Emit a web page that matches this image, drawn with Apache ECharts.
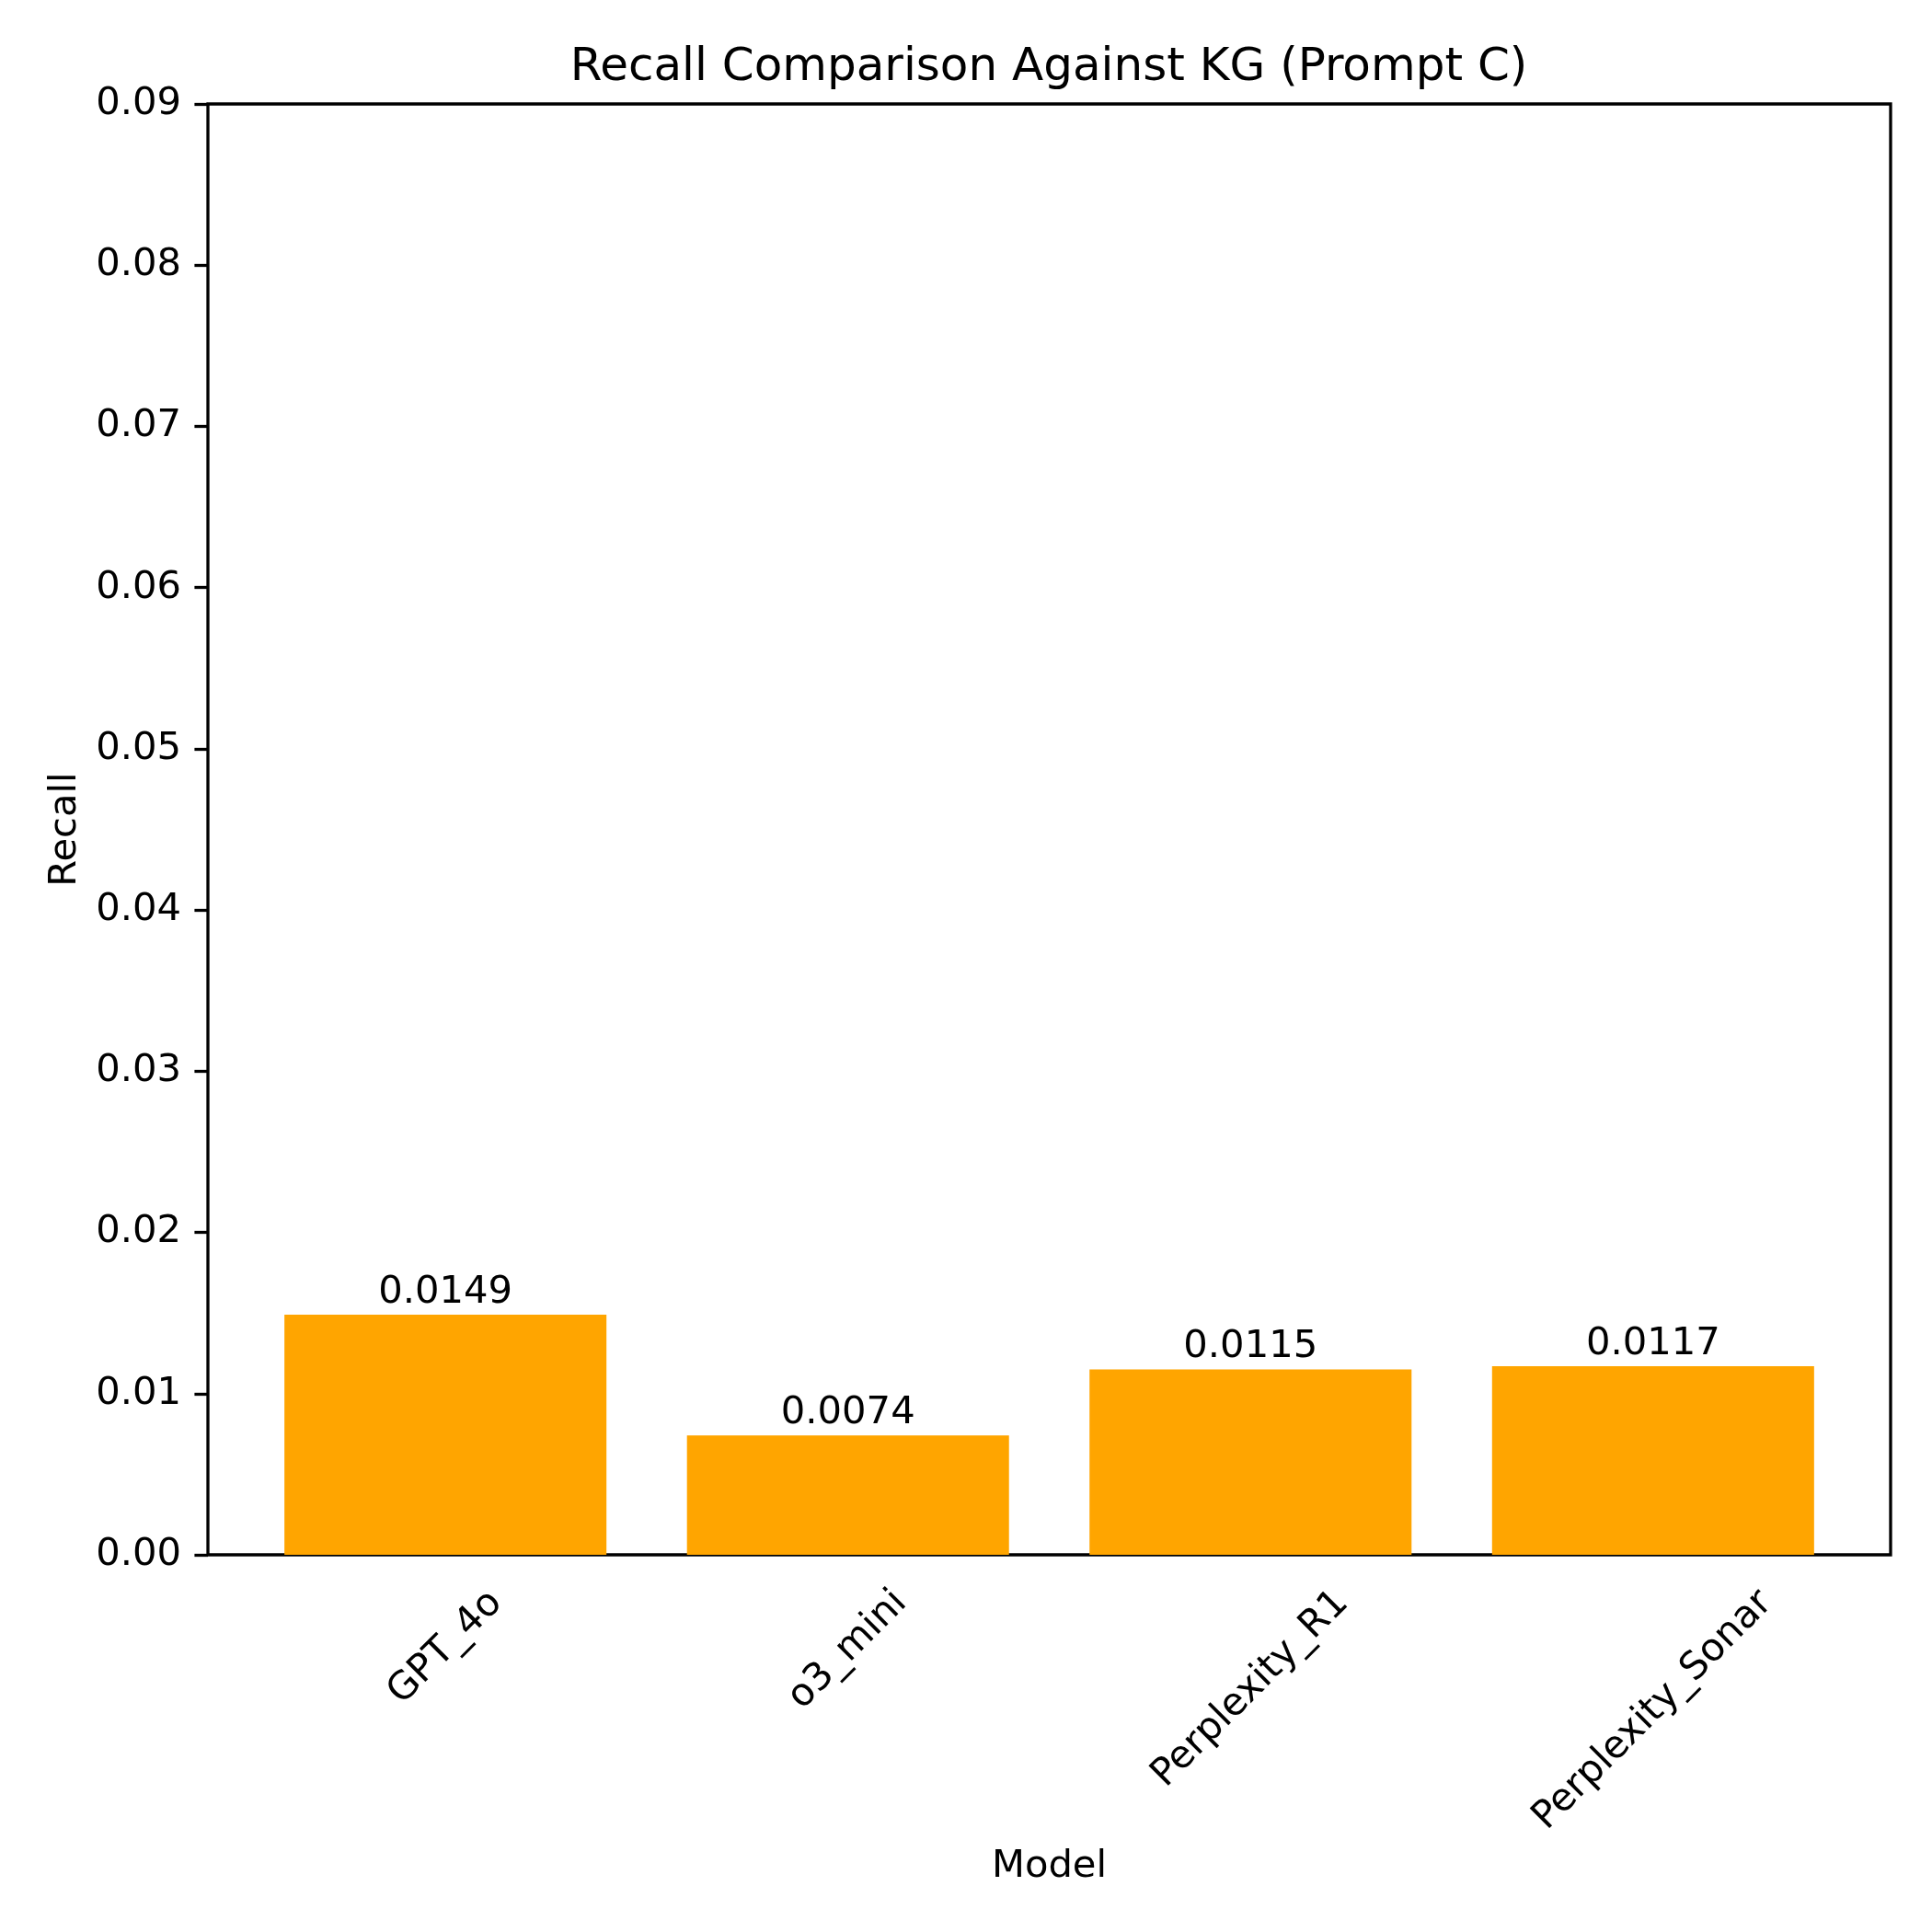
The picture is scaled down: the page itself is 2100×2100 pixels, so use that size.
<!DOCTYPE html>
<html lang="en">
<head>
	<meta charset="UTF-8">
	<title>Recall Comparison Against KG (Prompt C)</title>
	<script src="https://cdn.jsdelivr.net/npm/echarts@6/dist/echarts.min.js"></script>
</head>
<body style="margin:0;background:#fff;">
	<div id="main" style="width:2100px;height:2100px;"></div>
	<script type="text/javascript">
        // data
        var models = ['GPT_4o', 'o3_mini', 'Perplexity_R1', 'Perplexity_Sonar'];
        var recall = [0.0149, 0.0074, 0.0115, 0.0117];
        var yTicks = [0, 0.01, 0.02, 0.03, 0.04, 0.05, 0.06, 0.07, 0.08, 0.09];

        var font = 'DejaVu Sans';
        var fs = 41.7;

        // matplotlib centres rotated tick labels under the tick, so push each
        // label down according to its width (padding on the rotated text box)
        var ctx = document.createElement('canvas').getContext('2d');
        ctx.font = fs + 'px "' + font + '"';
        var rich = {};
        models.forEach(function (m, i) {
            var w = ctx.measureText(m).width;
            var d = 29 + (w + 48) / (2 * Math.SQRT2);
            var p = d * Math.SQRT2;
            rich['l' + i] = {
                fontFamily: font, fontSize: fs, color: '#000',
                padding: [p, p, 0, 0]
            };
        });

        var myChart = echarts.init(document.getElementById('main'));
        myChart.setOption({
            backgroundColor: '#fff',
            animation: false,
            textStyle: { fontFamily: font },
            title: {
                text: 'Recall Comparison Against KG (Prompt C)',
                left: 1135,
                textAlign: 'center',
                top: 44,
                textStyle: { fontFamily: font, fontSize: 50, fontWeight: 'normal', color: '#000' }
            },
            grid: [
                // outer frame (axes box)
                { left: 226, right: 45, top: 113, bottom: 410, show: true,
                  borderColor: '#000', borderWidth: 3.3, backgroundColor: 'transparent' },
                // bars live here, inset by matplotlib's x margins
                { left: 265.4, right: 84.4, top: 113, bottom: 410 }
            ],
            xAxis: [
                {
                    gridIndex: 0, type: 'value', min: 0, max: 1,
                    axisLine: { show: false }, axisTick: { show: false },
                    axisLabel: { show: false }, splitLine: { show: false },
                    name: 'Model', nameLocation: 'middle', nameGap: 318,
                    nameTextStyle: { fontFamily: font, fontSize: fs, color: '#000' }
                },
                {
                    gridIndex: 1, type: 'category', data: models,
                    axisLine: { show: false },
                    axisTick: { alignWithLabel: true, length: 14.6, lineStyle: { color: '#000', width: 3.3 } },
                    axisLabel: {
                        interval: 0, rotate: 45, margin: 0,
                        align: 'center', verticalAlign: 'middle',
                        formatter: function (v) { return '{l' + models.indexOf(v) + '|' + v + '}'; },
                        rich: rich
                    }
                }
            ],
            yAxis: [
                {
                    gridIndex: 0, type: 'value', min: 0, max: 0.09, interval: 0.01,
                    axisLine: { show: false },
                    axisTick: { show: true, length: 14.6, lineStyle: { color: '#000', width: 3.3 } },
                    axisLabel: {
                        margin: 29, fontFamily: font, fontSize: fs, color: '#000',
                        formatter: function (v) { return v.toFixed(2); }
                    },
                    splitLine: { show: false },
                    name: 'Recall', nameLocation: 'middle', nameGap: 134,
                    nameTextStyle: { fontFamily: font, fontSize: fs, color: '#000' }
                },
                {
                    gridIndex: 1, type: 'value', min: 0, max: 0.09, show: false,
                    splitLine: { show: false }
                }
            ],
            series: [{
                type: 'bar',
                xAxisIndex: 1,
                yAxisIndex: 1,
                data: recall,
                barWidth: '80%',
                itemStyle: { color: '#FFA500' },
                label: {
                    show: true, position: 'top', distance: 3,
                    fontFamily: font, fontSize: fs, color: '#000',
                    formatter: function (p) { return p.value.toFixed(4); }
                }
            }]
        });
    </script>
</body>
</html>
